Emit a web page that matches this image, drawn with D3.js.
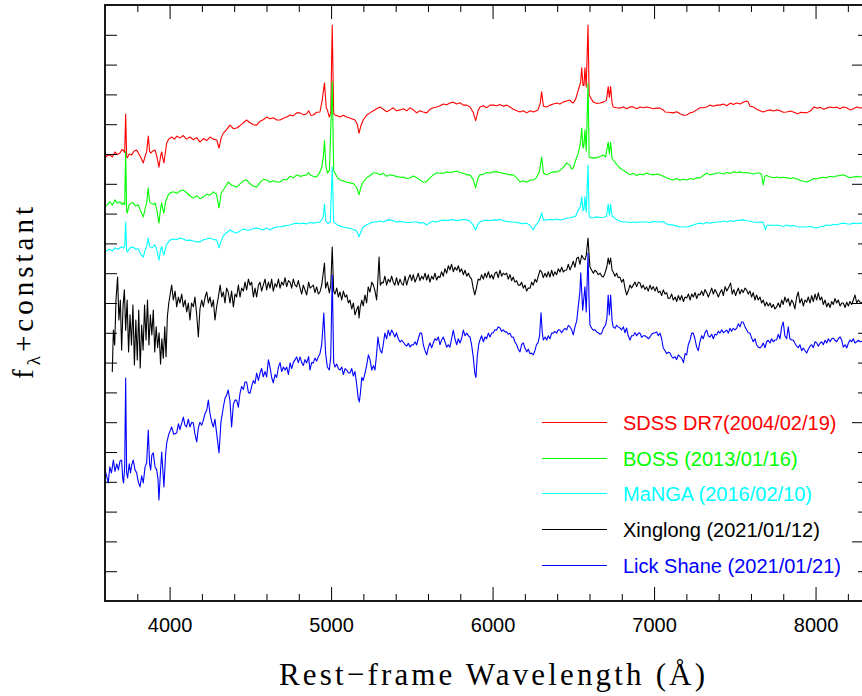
<!DOCTYPE html>
<meta charset="utf-8">
<style>
body { margin: 0; background: #fff; }
svg { display: block; }
.tick text { font-family: "Liberation Sans", Arial, sans-serif; font-size: 20px; fill: #000; }
.tick line { stroke: #000; stroke-width: 1; }
.spec { fill: none; stroke-width: 1.1; stroke-linejoin: round; }
.legend text { font-family: "Liberation Sans", Arial, sans-serif; font-size: 20px; }
.title { font-family: "Liberation Serif", "Times New Roman", serif; fill: #000; }
</style>
<svg width="862" height="696"></svg>
<script src="https://cdn.jsdelivr.net/npm/d3@7"></script>
<script>

// spectra: [rest-frame wavelength (A), f_lambda + constant]
var sdss = [[3600,14.87],[3615,14.95],[3631,14.97],[3645,14.90],[3662,15.07],[3675,14.98],[3693,15.03],[3705,15.15],[3713,15.13],[3722,15.05],
  [3728,16.34],[3734,14.92],[3738,14.87],[3750,15.00],[3765,14.97],[3780,15.10],[3796,15.13],[3810,15.00],[3825,14.85],[3837,14.70],
  [3850,14.95],[3858,15.07],[3868,15.60],[3876,15.10],[3883,15.03],[3895,15.10],[3910,15.13],[3922,14.90],[3934,14.56],[3945,14.95],
  [3951,15.07],[3958,14.85],[3965,14.70],[3975,15.10],[3982,15.37],[3995,15.50],[4013,15.57],[4030,15.50],[4045,15.60],[4064,15.54],
  [4085,15.62],[4105,15.50],[4126,15.57],[4147,15.48],[4168,15.55],[4188,15.40],[4209,15.52],[4230,15.45],[4250,15.57],[4271,15.50],
  [4292,15.47],[4306,15.20],[4320,15.55],[4333,15.70],[4350,15.80],[4374,15.97],[4395,15.85],[4415,15.87],[4436,15.95],[4457,16.05],
  [4477,16.14],[4498,16.05],[4520,15.98],[4539,15.97],[4560,16.10],[4580,16.15],[4601,16.24],[4622,16.18],[4642,16.22],[4663,16.14],
  [4684,16.14],[4705,16.20],[4725,16.24],[4746,16.31],[4766,16.28],[4787,16.38],[4808,16.38],[4830,16.32],[4849,16.35],[4861,16.45],
  [4875,16.30],[4890,16.31],[4911,16.40],[4931,16.41],[4945,16.81],[4959,17.39],[4970,16.55],[4977,16.48],[4989,16.24],[4998,16.40],
  [5007,19.33],[5016,16.35],[5024,16.31],[5040,16.28],[5055,16.24],[5075,16.30],[5097,16.24],[5120,16.20],[5148,16.14],[5162,16.00],
  [5173,15.70],[5185,15.95],[5199,16.14],[5220,16.30],[5241,16.38],[5262,16.45],[5282,16.52],[5303,16.58],[5323,16.50],[5344,16.42],
  [5365,16.48],[5385,16.55],[5405,16.45],[5427,16.48],[5447,16.52],[5468,16.45],[5489,16.55],[5509,16.48],[5530,16.38],[5550,16.45],
  [5570,16.41],[5592,16.38],[5612,16.50],[5633,16.55],[5654,16.58],[5674,16.62],[5695,16.68],[5716,16.65],[5736,16.71],[5757,16.74],
  [5778,16.68],[5798,16.72],[5819,16.64],[5840,16.64],[5860,16.58],[5880,16.40],[5895,16.12],[5910,16.45],[5922,16.58],[5943,16.62],
  [5963,16.55],[5984,16.64],[6004,16.64],[6025,16.62],[6046,16.66],[6066,16.60],[6087,16.64],[6108,16.58],[6128,16.50],[6150,16.45],
  [6170,16.41],[6190,16.45],[6211,16.38],[6232,16.45],[6252,16.41],[6270,16.45],[6281,16.48],[6295,16.70],[6304,17.09],[6315,16.60],
  [6335,16.58],[6355,16.64],[6376,16.68],[6397,16.71],[6417,16.68],[6438,16.75],[6459,16.78],[6479,16.81],[6490,16.74],[6500,16.71],
  [6515,16.85],[6531,17.15],[6545,17.40],[6552,17.89],[6560,17.30],[6566,17.30],[6572,17.89],[6580,17.25],[6591,19.33],[6598,16.98],
  [6612,16.84],[6624,16.74],[6645,16.70],[6665,16.71],[6686,16.74],[6705,16.80],[6716,17.26],[6723,16.90],[6731,17.26],[6740,16.70],
  [6747,16.58],[6768,16.55],[6789,16.54],[6810,16.58],[6830,16.52],[6851,16.58],[6871,16.58],[6892,16.52],[6913,16.58],[6933,16.55],
  [6954,16.58],[6975,16.55],[6995,16.52],[7016,16.54],[7037,16.54],[7057,16.48],[7068,16.41],[7090,16.40],[7119,16.38],[7140,16.42],
  [7161,16.35],[7182,16.30],[7202,16.31],[7223,16.38],[7243,16.41],[7264,16.48],[7284,16.55],[7305,16.55],[7326,16.58],[7346,16.64],
  [7367,16.60],[7388,16.64],[7408,16.64],[7430,16.68],[7450,16.62],[7474,16.71],[7490,16.66],[7512,16.71],[7532,16.68],[7552,16.74],
  [7573,16.78],[7583,16.74],[7594,16.60],[7614,16.58],[7635,16.50],[7656,16.45],[7676,16.41],[7697,16.45],[7718,16.48],[7740,16.44],
  [7759,16.48],[7780,16.45],[7800,16.40],[7821,16.41],[7845,16.44],[7862,16.41],[7890,16.35],[7910,16.40],[7945,16.38],[7970,16.45],
  [7990,16.58],[8007,16.54],[8030,16.56],[8050,16.50],[8069,16.54],[8090,16.58],[8110,16.55],[8130,16.58],[8152,16.52],[8172,16.58],
  [8193,16.55],[8213,16.48],[8234,16.52],[8255,16.58],[8275,16.54],[8300,16.56]];

var boss = [[3600,13.22],[3615,13.30],[3631,13.40],[3645,13.28],[3662,13.46],[3675,13.35],[3693,13.40],[3705,13.30],[3713,13.36],[3722,13.30],
  [3728,15.07],[3734,13.10],[3738,13.02],[3750,13.30],[3765,13.36],[3775,13.36],[3790,13.25],[3805,13.30],[3820,13.10],[3837,12.89],
  [3850,13.20],[3858,13.36],[3868,13.86],[3876,13.40],[3883,13.36],[3899,13.30],[3910,13.36],[3922,13.10],[3934,12.68],[3945,13.20],
  [3951,13.36],[3958,13.15],[3965,13.02],[3975,13.40],[3992,13.63],[4005,13.70],[4023,13.73],[4045,13.68],[4064,13.76],[4085,13.79],
  [4105,13.70],[4126,13.60],[4147,13.52],[4168,13.60],[4188,13.50],[4209,13.56],[4230,13.65],[4250,13.62],[4271,13.73],[4290,13.65],
  [4306,13.19],[4320,13.70],[4340,13.85],[4363,14.06],[4385,13.95],[4415,13.89],[4436,14.00],[4457,14.10],[4477,14.13],[4498,14.00],
  [4520,13.92],[4539,13.89],[4560,14.05],[4580,14.15],[4601,14.13],[4622,14.05],[4642,14.10],[4663,14.06],[4684,14.06],[4705,14.15],
  [4725,14.13],[4746,14.25],[4766,14.20],[4787,14.30],[4808,14.25],[4830,14.28],[4849,14.30],[4861,14.38],[4875,14.28],[4890,14.25],
  [4911,14.23],[4931,14.40],[4942,14.56],[4952,14.90],[4959,15.45],[4968,14.60],[4977,14.36],[4990,14.45],[5007,17.42],[5016,14.45],
  [5024,14.36],[5040,14.20],[5055,14.13],[5075,14.10],[5097,14.05],[5117,14.03],[5140,14.00],[5160,13.85],[5173,13.63],[5185,13.90],
  [5199,14.06],[5220,14.20],[5241,14.28],[5262,14.36],[5282,14.36],[5303,14.30],[5323,14.35],[5344,14.25],[5365,14.30],[5385,14.28],
  [5405,14.25],[5427,14.22],[5447,14.23],[5468,14.18],[5489,14.20],[5509,14.26],[5530,14.20],[5550,14.14],[5570,14.05],[5592,14.08],
  [5612,14.20],[5633,14.30],[5654,14.36],[5674,14.36],[5695,14.35],[5716,14.40],[5736,14.38],[5757,14.40],[5778,14.43],[5798,14.38],
  [5819,14.35],[5840,14.30],[5860,14.30],[5880,14.15],[5895,13.86],[5910,14.20],[5922,14.30],[5943,14.32],[5963,14.38],[5984,14.36],
  [6004,14.40],[6025,14.40],[6046,14.38],[6066,14.35],[6087,14.33],[6108,14.30],[6128,14.30],[6150,14.20],[6170,14.06],[6190,14.10],
  [6211,14.05],[6232,14.13],[6252,14.13],[6270,14.20],[6290,14.40],[6304,14.90],[6315,14.35],[6335,14.30],[6355,14.36],[6376,14.40],
  [6397,14.40],[6417,14.45],[6438,14.55],[6459,14.70],[6479,14.62],[6490,14.50],[6500,14.53],[6515,14.80],[6531,15.03],[6545,15.40],
  [6552,15.87],[6560,15.20],[6566,15.30],[6572,15.81],[6580,15.10],[6591,17.38],[6598,14.90],[6612,14.87],[6624,14.87],[6645,14.87],
  [6665,14.92],[6686,14.97],[6700,14.90],[6716,15.40],[6723,15.00],[6731,15.40],[6740,14.85],[6747,14.80],[6768,14.65],[6789,14.53],
  [6810,14.45],[6830,14.38],[6851,14.30],[6871,14.35],[6892,14.28],[6913,14.33],[6933,14.30],[6954,14.36],[6975,14.32],[6995,14.30],
  [7016,14.33],[7037,14.30],[7057,14.25],[7078,14.20],[7099,14.15],[7119,14.13],[7140,14.18],[7161,14.12],[7182,14.15],[7202,14.13],
  [7223,14.18],[7243,14.15],[7264,14.20],[7284,14.20],[7305,14.28],[7326,14.36],[7346,14.30],[7367,14.33],[7388,14.36],[7408,14.36],
  [7430,14.33],[7450,14.38],[7474,14.35],[7490,14.40],[7512,14.38],[7532,14.40],[7552,14.36],[7573,14.38],[7594,14.36],[7614,14.33],
  [7635,14.36],[7656,14.36],[7666,14.30],[7676,13.96],[7685,14.25],[7697,14.28],[7718,14.23],[7740,14.20],[7759,14.23],[7780,14.20],
  [7800,14.22],[7821,14.20],[7845,14.18],[7862,14.20],[7890,14.15],[7910,14.10],[7945,14.06],[7970,14.12],[7990,14.18],[8007,14.16],
  [8028,14.20],[8050,14.22],[8069,14.20],[8090,14.25],[8110,14.23],[8130,14.26],[8152,14.28],[8172,14.30],[8193,14.25],[8213,14.20],
  [8234,14.23],[8255,14.25],[8275,14.23],[8300,14.24]];

var manga = [[3600,11.71],[3615,11.78],[3631,11.80],[3645,11.74],[3662,11.85],[3680,11.80],[3700,11.88],[3713,11.85],[3722,11.90],[3728,12.72],
  [3734,11.75],[3738,11.71],[3755,11.85],[3775,11.88],[3790,11.80],[3805,11.82],[3820,11.65],[3837,11.54],[3850,11.80],[3858,11.90],
  [3868,12.18],[3876,11.90],[3890,11.85],[3910,11.95],[3922,11.75],[3934,11.44],[3945,11.80],[3951,11.90],[3958,11.72],[3965,11.61],
  [3980,11.95],[4002,12.11],[4023,12.15],[4044,12.12],[4064,12.18],[4085,12.15],[4105,12.10],[4126,12.11],[4147,12.08],[4168,12.05],
  [4188,12.05],[4209,12.12],[4230,12.15],[4250,12.18],[4271,12.14],[4292,12.11],[4306,11.85],[4320,12.10],[4333,12.25],[4350,12.35],
  [4374,12.45],[4395,12.38],[4415,12.35],[4436,12.42],[4457,12.48],[4477,12.45],[4498,12.45],[4520,12.50],[4539,12.52],[4560,12.48],
  [4580,12.45],[4601,12.52],[4622,12.45],[4642,12.52],[4663,12.55],[4684,12.55],[4705,12.58],[4725,12.60],[4746,12.62],[4766,12.66],
  [4787,12.68],[4808,12.66],[4830,12.68],[4849,12.65],[4870,12.70],[4890,12.68],[4911,12.70],[4931,12.72],[4942,12.79],[4952,12.90],
  [4959,13.32],[4968,12.75],[4980,12.68],[4995,12.70],[5007,14.56],[5016,12.72],[5024,12.68],[5040,12.62],[5055,12.58],[5075,12.55],
  [5097,12.52],[5120,12.50],[5148,12.45],[5160,12.40],[5173,12.22],[5185,12.40],[5199,12.55],[5220,12.62],[5241,12.68],[5262,12.72],
  [5282,12.72],[5303,12.75],[5323,12.72],[5344,12.78],[5365,12.79],[5385,12.76],[5405,12.72],[5427,12.74],[5447,12.72],[5468,12.70],
  [5489,12.70],[5509,12.72],[5530,12.72],[5550,12.68],[5570,12.70],[5592,12.62],[5612,12.70],[5633,12.74],[5654,12.72],[5674,12.76],
  [5695,12.78],[5716,12.76],[5736,12.79],[5757,12.79],[5778,12.76],[5798,12.78],[5819,12.80],[5840,12.79],[5860,12.74],[5880,12.62],
  [5895,12.45],[5910,12.65],[5922,12.72],[5943,12.76],[5963,12.78],[5984,12.76],[6004,12.79],[6025,12.78],[6046,12.80],[6066,12.76],
  [6087,12.74],[6108,12.72],[6128,12.72],[6150,12.70],[6170,12.68],[6190,12.66],[6211,12.68],[6232,12.60],[6252,12.45],[6265,12.60],
  [6281,12.70],[6295,12.85],[6304,13.02],[6315,12.78],[6335,12.79],[6355,12.80],[6376,12.79],[6397,12.82],[6417,12.79],[6438,12.80],
  [6459,12.85],[6479,12.86],[6500,12.89],[6515,12.92],[6531,13.12],[6545,13.25],[6552,13.56],[6560,13.10],[6566,13.15],[6572,13.56],
  [6580,13.05],[6591,14.63],[6598,12.90],[6612,12.85],[6624,12.86],[6645,12.89],[6665,12.87],[6686,12.88],[6705,12.90],[6716,13.32],
  [6723,12.95],[6731,13.32],[6740,12.90],[6747,12.89],[6768,12.80],[6789,12.74],[6810,12.72],[6830,12.72],[6851,12.70],[6871,12.72],
  [6892,12.70],[6913,12.72],[6933,12.72],[6954,12.72],[6975,12.70],[6995,12.74],[7016,12.72],[7037,12.72],[7057,12.74],[7078,12.65],
  [7099,12.62],[7119,12.62],[7140,12.58],[7161,12.56],[7182,12.55],[7202,12.55],[7223,12.58],[7243,12.62],[7264,12.66],[7284,12.68],
  [7305,12.65],[7326,12.70],[7346,12.68],[7367,12.70],[7388,12.72],[7408,12.72],[7430,12.75],[7450,12.72],[7474,12.76],[7490,12.74],
  [7512,12.77],[7532,12.78],[7552,12.79],[7573,12.76],[7594,12.75],[7614,12.72],[7635,12.70],[7656,12.72],[7676,12.70],[7690,12.45],
  [7697,12.60],[7718,12.62],[7740,12.60],[7759,12.62],[7780,12.60],[7800,12.57],[7821,12.62],[7845,12.58],[7862,12.60],[7890,12.56],
  [7910,12.55],[7945,12.55],[7970,12.57],[7990,12.53],[8007,12.52],[8030,12.56],[8050,12.58],[8069,12.62],[8090,12.60],[8110,12.64],
  [8130,12.62],[8152,12.66],[8172,12.68],[8193,12.66],[8213,12.64],[8234,12.68],[8255,12.66],[8275,12.68],[8300,12.67]];

var xinglong = [[3645,7.68],[3652,9.09],[3660,8.59],[3668,10.10],[3678,10.87],[3686,9.43],[3695,10.10],[3703,8.42],[3712,9.93],[3720,10.44],
  [3728,9.09],[3737,10.10],[3746,8.36],[3755,9.60],[3764,8.59],[3773,9.93],[3782,7.92],[3791,9.43],[3800,8.09],[3809,9.76],
  [3818,7.82],[3827,9.26],[3836,8.42],[3845,9.93],[3854,8.76],[3863,10.10],[3872,8.59],[3881,9.60],[3890,8.93],[3899,9.76],
  [3908,8.36],[3917,9.20],[3926,8.50],[3935,9.00],[3944,7.95],[3952,8.80],[3961,8.15],[3970,9.20],[3978,8.20],[3986,9.53],
  [3995,10.00],[4005,10.34],[4013,10.60],[4023,10.10],[4034,10.40],[4044,9.87],[4054,10.20],[4064,10.00],[4075,10.30],[4085,9.87],
  [4096,10.10],[4106,9.70],[4116,10.00],[4126,9.43],[4136,10.00],[4147,9.87],[4157,10.20],[4168,9.60],[4178,8.86],[4188,9.80],
  [4199,10.10],[4209,9.87],[4220,10.20],[4230,10.37],[4240,10.00],[4250,10.20],[4261,9.87],[4271,10.10],[4281,9.43],[4292,9.90],
  [4302,10.20],[4313,10.60],[4323,10.20],[4333,10.37],[4343,10.00],[4353,10.50],[4363,10.37],[4374,10.00],[4384,10.40],[4395,9.87],
  [4405,10.30],[4415,10.20],[4426,10.60],[4436,10.20],[4446,10.50],[4457,10.40],[4467,10.70],[4477,10.44],[4488,10.80],[4498,10.60],
  [4508,10.70],[4519,10.20],[4529,10.50],[4539,10.20],[4550,10.60],[4560,10.70],[4570,10.40],[4580,10.60],[4591,10.80],[4601,10.44],
  [4612,10.70],[4622,10.50],[4632,10.80],[4642,10.40],[4653,10.65],[4663,10.54],[4674,10.80],[4684,10.50],[4694,10.70],[4705,10.60],
  [4715,10.85],[4725,10.55],[4736,10.75],[4746,10.70],[4756,10.50],[4766,10.80],[4777,10.60],[4787,10.54],[4797,10.75],[4808,10.50],
  [4818,10.30],[4828,10.60],[4849,10.27],[4861,10.70],[4870,10.50],[4890,10.60],[4900,10.35],[4911,10.54],[4921,10.30],[4931,10.37],
  [4942,10.60],[4959,11.34],[4966,10.50],[4977,10.70],[4989,10.34],[4998,10.60],[5007,11.88],[5016,10.40],[5024,10.30],[5035,10.50],
  [5045,10.20],[5055,10.37],[5066,10.10],[5076,10.40],[5087,10.20],[5097,10.27],[5107,10.00],[5117,10.10],[5128,9.80],[5138,10.00],
  [5148,9.60],[5160,9.80],[5168,9.90],[5173,9.50],[5180,9.85],[5190,10.10],[5199,9.90],[5210,10.27],[5220,10.00],[5230,10.54],
  [5241,10.37],[5252,10.70],[5262,10.60],[5272,10.40],[5282,10.10],[5290,10.80],[5297,11.54],[5305,10.60],[5315,10.70],[5323,10.67],
  [5333,10.90],[5344,10.60],[5354,10.80],[5365,10.70],[5375,10.90],[5385,10.70],[5395,10.60],[5405,10.85],[5416,10.60],[5427,10.80],
  [5437,10.65],[5447,10.60],[5458,10.90],[5468,10.60],[5478,10.80],[5489,10.95],[5499,10.75],[5509,10.95],[5520,10.70],[5530,10.84],
  [5540,11.00],[5550,10.75],[5561,10.90],[5571,10.80],[5582,11.00],[5592,10.77],[5602,10.95],[5612,10.70],[5623,10.90],[5633,10.80],
  [5643,11.00],[5654,10.77],[5664,10.90],[5674,10.85],[5684,11.05],[5695,10.90],[5705,11.15],[5716,11.00],[5726,11.25],[5736,11.11],
  [5746,11.30],[5757,11.05],[5767,11.20],[5778,11.10],[5788,11.25],[5798,11.04],[5808,11.15],[5819,10.95],[5829,11.10],[5840,10.90],
  [5850,11.00],[5860,10.87],[5870,10.80],[5880,10.50],[5890,10.27],[5900,10.50],[5911,10.80],[5922,10.77],[5932,10.95],[5943,10.80],
  [5953,11.00],[5963,10.85],[5974,11.05],[5984,10.84],[5994,10.95],[6004,10.80],[6015,11.00],[6025,11.04],[6035,10.85],[6046,11.10],
  [6056,10.90],[6066,11.00],[6077,10.95],[6087,11.00],[6097,10.80],[6108,10.95],[6118,10.75],[6128,10.87],[6138,10.70],[6149,10.75],
  [6159,10.60],[6170,10.60],[6180,10.70],[6190,10.50],[6201,10.60],[6211,10.40],[6221,10.50],[6232,10.50],[6242,10.70],[6252,10.60],
  [6263,10.80],[6273,10.70],[6283,10.90],[6294,11.10],[6304,11.04],[6314,10.85],[6325,11.00],[6335,10.87],[6345,11.05],[6355,10.87],
  [6366,11.10],[6376,10.90],[6386,11.05],[6397,10.95],[6407,11.15],[6417,11.04],[6428,11.20],[6438,11.04],[6448,11.10],[6459,11.11],
  [6469,11.30],[6479,11.11],[6490,11.25],[6500,11.40],[6510,11.20],[6521,11.50],[6531,11.54],[6541,11.30],[6552,11.60],[6562,11.50],
  [6572,11.45],[6580,11.60],[6591,12.18],[6598,11.60],[6603,11.21],[6614,11.10],[6624,11.00],[6634,11.10],[6645,11.04],[6655,10.95],
  [6666,11.00],[6676,10.90],[6686,10.87],[6696,11.00],[6707,11.20],[6716,11.51],[6723,11.30],[6731,11.51],[6740,11.10],[6747,11.04],
  [6758,10.90],[6768,11.00],[6778,10.85],[6789,10.87],[6799,10.70],[6810,10.80],[6820,10.50],[6830,10.27],[6840,10.40],[6851,10.60],
  [6861,10.50],[6871,10.60],[6882,10.70],[6892,10.55],[6903,10.70],[6913,10.67],[6923,10.50],[6933,10.60],[6944,10.45],[6954,10.54],
  [6964,10.40],[6975,10.60],[6985,10.45],[6995,10.55],[7006,10.40],[7016,10.54],[7026,10.35],[7037,10.40],[7047,10.25],[7057,10.44],
  [7068,10.30],[7078,10.35],[7088,10.15],[7099,10.17],[7109,10.30],[7119,10.10],[7130,10.20],[7140,10.05],[7150,10.25],[7161,10.10],
  [7171,10.25],[7182,10.05],[7192,10.20],[7202,10.17],[7213,10.30],[7223,10.10],[7233,10.30],[7243,10.20],[7254,10.35],[7264,10.15],
  [7274,10.30],[7284,10.27],[7295,10.40],[7305,10.25],[7315,10.45],[7326,10.34],[7336,10.20],[7346,10.34],[7357,10.50],[7367,10.30],
  [7377,10.45],[7388,10.34],[7398,10.20],[7408,10.34],[7419,10.45],[7429,10.25],[7440,10.55],[7450,10.40],[7460,10.50],[7474,10.67],
  [7484,10.30],[7494,10.45],[7505,10.25],[7512,10.37],[7522,10.50],[7532,10.30],[7542,10.45],[7552,10.35],[7563,10.50],[7573,10.44],
  [7583,10.30],[7594,10.40],[7604,10.20],[7614,10.35],[7625,10.10],[7635,10.27],[7645,10.10],[7656,10.20],[7666,10.00],[7676,10.10],
  [7687,9.90],[7697,10.03],[7707,9.90],[7718,10.00],[7728,9.85],[7738,9.95],[7749,9.80],[7759,9.87],[7769,10.00],[7780,9.85],
  [7790,10.10],[7800,9.95],[7810,10.20],[7821,10.03],[7831,10.15],[7841,9.90],[7852,10.10],[7862,10.00],[7872,9.80],[7883,10.20],
  [7893,10.37],[7903,10.00],[7914,10.15],[7924,9.90],[7935,10.10],[7945,10.03],[7955,10.20],[7966,10.00],[7976,10.25],[7986,10.05],
  [7997,10.30],[8007,10.10],[8017,10.34],[8028,10.10],[8038,10.20],[8048,9.95],[8059,10.10],[8069,9.87],[8079,10.00],[8090,9.85],
  [8100,10.05],[8110,9.95],[8120,10.15],[8131,10.00],[8141,10.10],[8152,9.90],[8162,10.00],[8172,10.00],[8183,9.85],[8193,10.03],
  [8203,9.90],[8213,10.05],[8224,9.95],[8234,10.10],[8244,10.27],[8255,10.00],[8265,10.10],[8275,10.03],[8290,10.00],[8300,10.02]];

var lick = [[3600,4.40],[3610,4.20],[3620,3.96],[3630,4.50],[3640,4.30],[3652,4.73],[3662,4.35],[3673,4.60],[3683,4.40],[3693,4.70],
  [3703,4.73],[3710,4.10],[3715,3.96],[3722,4.50],[3728,7.48],[3734,4.30],[3740,4.13],[3750,4.60],[3758,4.30],[3765,4.56],
  [3775,4.73],[3786,4.40],[3796,4.30],[3806,4.00],[3817,3.83],[3827,4.20],[3837,3.96],[3848,4.50],[3858,4.63],[3868,5.74],
  [3876,4.60],[3883,4.40],[3890,4.90],[3899,4.97],[3910,4.50],[3920,4.40],[3928,4.10],[3934,3.39],[3942,4.20],[3951,5.00],
  [3958,4.40],[3965,3.83],[3975,4.90],[3982,5.30],[3995,5.60],[4013,5.84],[4025,5.60],[4044,5.64],[4055,5.95],[4064,5.75],
  [4085,6.17],[4095,5.90],[4105,5.84],[4116,6.10],[4126,5.84],[4137,6.00],[4147,5.97],[4157,5.60],[4168,5.34],[4178,5.80],
  [4188,6.00],[4199,5.90],[4209,6.07],[4220,6.30],[4230,6.40],[4240,6.74],[4250,6.30],[4261,6.00],[4271,5.84],[4281,6.10],
  [4292,5.60],[4306,4.97],[4318,6.00],[4333,6.51],[4343,6.80],[4353,6.90],[4363,7.08],[4374,6.70],[4384,5.84],[4395,6.60],
  [4405,6.74],[4415,6.74],[4426,6.50],[4436,6.97],[4446,7.20],[4457,7.10],[4467,7.35],[4477,7.35],[4488,7.00],[4498,6.97],
  [4508,7.20],[4519,7.40],[4529,7.30],[4539,7.65],[4550,7.40],[4560,7.65],[4570,7.80],[4580,7.52],[4591,7.70],[4601,7.52],
  [4612,8.09],[4622,7.85],[4632,7.50],[4642,7.32],[4653,7.60],[4663,7.50],[4674,7.85],[4684,8.00],[4694,7.70],[4705,7.85],
  [4715,7.75],[4725,7.85],[4736,7.60],[4746,7.99],[4756,7.80],[4766,8.00],[4777,8.10],[4787,8.19],[4797,8.00],[4808,8.19],
  [4818,8.00],[4828,7.90],[4838,8.10],[4849,7.99],[4861,8.20],[4869,7.75],[4880,8.00],[4890,7.99],[4900,8.15],[4911,8.05],
  [4921,8.20],[4931,8.30],[4942,8.60],[4955,9.66],[4966,8.32],[4977,7.85],[4989,7.75],[4998,8.20],[5007,10.94],[5016,8.00],
  [5024,7.85],[5035,7.95],[5045,7.80],[5055,7.75],[5066,7.85],[5076,7.60],[5087,7.80],[5097,7.75],[5107,7.65],[5117,7.65],
  [5128,7.80],[5138,7.55],[5148,7.70],[5160,7.20],[5168,6.80],[5175,6.68],[5182,7.00],[5190,7.50],[5199,7.40],[5210,7.65],
  [5220,7.90],[5231,8.26],[5241,8.10],[5252,7.75],[5262,7.90],[5272,7.75],[5282,8.30],[5290,8.86],[5297,8.60],[5305,8.40],
  [5314,8.32],[5323,8.60],[5333,8.99],[5344,8.80],[5354,9.09],[5364,8.90],[5375,9.09],[5385,8.99],[5395,8.86],[5405,9.00],
  [5416,8.80],[5427,8.69],[5437,8.75],[5447,8.69],[5458,8.60],[5468,8.55],[5478,8.65],[5489,8.52],[5499,8.60],[5509,8.59],
  [5520,8.70],[5530,8.59],[5540,8.80],[5550,8.99],[5561,8.99],[5571,8.60],[5582,8.40],[5592,8.26],[5602,8.50],[5612,8.66],
  [5623,8.50],[5633,8.66],[5643,8.80],[5654,8.75],[5664,8.86],[5674,8.60],[5684,8.75],[5695,8.86],[5705,8.70],[5716,8.52],
  [5726,8.60],[5736,8.52],[5746,8.80],[5757,9.09],[5767,8.80],[5778,8.60],[5788,8.80],[5798,8.66],[5808,8.80],[5819,9.09],
  [5829,8.90],[5840,8.99],[5850,8.90],[5860,8.86],[5870,8.60],[5880,8.20],[5890,7.65],[5897,7.50],[5905,8.20],[5914,8.60],
  [5922,8.76],[5932,8.90],[5943,8.70],[5953,8.86],[5963,8.80],[5974,8.99],[5984,8.86],[5994,8.99],[6004,9.00],[6015,9.10],
  [6025,9.09],[6035,9.20],[6046,9.16],[6056,9.05],[6066,9.10],[6077,9.03],[6087,9.03],[6097,8.95],[6108,8.99],[6118,8.86],
  [6128,8.86],[6138,8.70],[6149,8.60],[6159,8.45],[6170,8.36],[6180,8.60],[6190,8.66],[6200,8.50],[6211,8.36],[6221,8.45],
  [6232,8.30],[6242,8.32],[6252,8.26],[6262,8.40],[6272,8.60],[6281,8.66],[6291,8.90],[6300,9.67],[6308,9.00],[6314,8.76],
  [6325,8.86],[6335,8.76],[6345,8.90],[6355,8.80],[6366,8.99],[6376,8.99],[6386,9.05],[6397,8.99],[6407,9.10],[6417,9.09],
  [6428,9.00],[6438,9.09],[6448,9.15],[6459,9.10],[6469,9.25],[6479,9.20],[6490,9.10],[6500,8.93],[6510,9.20],[6521,9.40],
  [6531,9.90],[6541,10.40],[6546,11.01],[6558,9.76],[6566,10.20],[6572,10.54],[6580,9.70],[6591,11.68],[6598,10.00],[6603,9.26],
  [6614,9.15],[6624,9.09],[6634,9.10],[6645,9.03],[6655,9.00],[6666,8.95],[6676,8.99],[6686,9.15],[6700,9.26],[6708,9.50],
  [6716,10.27],[6723,9.60],[6731,10.27],[6740,9.40],[6747,9.20],[6758,9.15],[6768,9.25],[6778,9.20],[6789,9.16],[6799,9.10],
  [6810,9.20],[6820,9.00],[6830,9.16],[6840,8.90],[6851,8.76],[6861,8.90],[6871,8.90],[6882,9.00],[6892,8.90],[6903,8.99],
  [6913,8.99],[6923,8.85],[6933,8.90],[6944,8.90],[6954,8.86],[6965,8.80],[6975,8.86],[6985,8.95],[6995,8.99],[7006,9.00],
  [7016,9.03],[7026,8.90],[7037,8.99],[7047,8.80],[7057,8.49],[7068,8.40],[7078,8.30],[7088,8.35],[7099,8.32],[7109,8.20],
  [7119,8.15],[7130,8.20],[7140,8.10],[7150,8.26],[7161,8.20],[7171,8.15],[7182,8.00],[7192,8.30],[7202,8.26],[7212,8.60],
  [7223,8.76],[7233,8.99],[7243,8.99],[7253,8.80],[7264,8.52],[7274,8.40],[7284,8.70],[7295,8.90],[7305,8.80],[7315,9.00],
  [7326,9.09],[7336,8.90],[7346,8.86],[7357,8.95],[7367,8.80],[7377,8.95],[7388,8.93],[7398,9.05],[7408,8.99],[7419,9.10],
  [7429,9.00],[7440,9.05],[7450,9.09],[7460,8.99],[7470,9.15],[7480,9.05],[7490,9.15],[7501,9.10],[7512,9.16],[7522,9.30],
  [7532,9.20],[7542,9.36],[7552,9.36],[7563,9.20],[7573,9.10],[7583,9.00],[7594,8.99],[7604,8.83],[7614,8.70],[7625,8.80],
  [7635,8.60],[7645,8.52],[7656,8.49],[7666,8.55],[7676,8.66],[7687,8.50],[7697,8.70],[7707,8.75],[7718,8.66],[7728,8.80],
  [7738,8.70],[7749,8.76],[7759,8.76],[7769,8.95],[7780,8.80],[7790,9.20],[7800,9.36],[7810,8.90],[7821,8.80],[7831,9.20],
  [7841,8.80],[7852,8.76],[7862,8.76],[7872,8.65],[7883,8.55],[7893,8.50],[7903,8.60],[7914,8.40],[7924,8.49],[7935,8.40],
  [7945,8.32],[7955,8.45],[7966,8.55],[7976,8.60],[7986,8.50],[7997,8.70],[8007,8.66],[8017,8.55],[8028,8.65],[8038,8.70],
  [8048,8.60],[8059,8.75],[8069,8.66],[8079,8.80],[8090,8.70],[8100,8.80],[8110,8.82],[8120,8.75],[8131,8.70],[8141,8.80],
  [8152,8.86],[8162,8.75],[8172,8.52],[8183,8.60],[8193,8.49],[8203,8.65],[8213,8.76],[8224,8.70],[8234,8.80],[8244,8.66],
  [8255,8.70],[8265,8.75],[8275,8.70],[8290,8.72],[8300,8.70]];

var names = ["SDSS DR7(2004/02/19)", "BOSS (2013/01/16)", "MaNGA (2016/02/10)", "Xinglong (2021/01/12)", "Lick Shane (2021/01/21)"];
var colors = ["#ff0000", "#00ff00", "#00ffff", "#000000", "#0000ff"];
var spectra = [sdss, boss, manga, xinglong, lick];

var xMajor = [4000, 5000, 6000, 7000, 8000];
var xMinor = [3800, 4200, 4400, 4600, 4800, 5200, 5400, 5600, 5800, 6200, 6400, 6600, 6800, 7200, 7400, 7600, 7800, 8200];
var yTicks = [1, 2, 3, 4, 5, 6, 7, 8, 9, 10, 11, 12, 13, 14, 15, 16, 17, 18, 19];
var yRightMajor = [2, 6, 10, 14, 18];

var svg = d3.select("svg");

var plotLeft = 105, plotRight = 864, plotTop = 5, plotBottom = 601;

var x = d3.scaleLinear().domain([3600, 8300]).range([plotLeft, plotRight]);
var y = d3.scaleLinear().domain([0, 20]).range([plotBottom, plotTop]);

svg.append("clipPath").attr("id", "plot")
  .append("rect").attr("x", plotLeft).attr("y", plotTop)
    .attr("width", plotRight - plotLeft).attr("height", plotBottom - plotTop);

var line = d3.line()
    .x(function(d) { return x(d[0]); })
    .y(function(d) { return y(d[1]); });

svg.append("g")
    .attr("clip-path", "url(#plot)")
  .selectAll("path")
  .data(spectra)
  .enter().append("path")
    .attr("class", "spec")
    .attr("stroke", function(d, i) { return colors[i]; })
    .attr("d", line);

function noDomain(g) { g.select(".domain").remove(); }

// bottom + top ticks
svg.append("g").attr("transform", "translate(0," + plotBottom + ")")
    .call(d3.axisBottom(x).tickValues(xMajor).tickSize(-14).tickPadding(17).tickFormat(d3.format("d")))
    .call(noDomain);
svg.append("g").attr("transform", "translate(0," + plotBottom + ")")
    .call(d3.axisBottom(x).tickValues(xMinor).tickSize(-7).tickFormat(""))
    .call(noDomain);
svg.append("g").attr("transform", "translate(0," + plotTop + ")")
    .call(d3.axisTop(x).tickValues(xMajor).tickSize(-14).tickFormat(""))
    .call(noDomain);
svg.append("g").attr("transform", "translate(0," + plotTop + ")")
    .call(d3.axisTop(x).tickValues(xMinor).tickSize(-7).tickFormat(""))
    .call(noDomain);

// left + right ticks
svg.append("g").attr("transform", "translate(" + plotLeft + ",0)")
    .call(d3.axisLeft(y).tickValues(yTicks).tickSize(-12).tickFormat(""))
    .call(noDomain);
svg.append("g").attr("transform", "translate(" + plotRight + ",0)")
    .call(d3.axisRight(y).tickValues(yRightMajor).tickSize(-12).tickFormat(""))
    .call(noDomain);
svg.append("g").attr("transform", "translate(" + plotRight + ",0)")
    .call(d3.axisRight(y).tickValues(yTicks.filter(function(t) { return yRightMajor.indexOf(t) < 0; })).tickSize(-6).tickFormat(""))
    .call(noDomain);

svg.append("rect")
    .attr("x", plotLeft).attr("y", plotTop)
    .attr("width", plotRight - plotLeft).attr("height", plotBottom - plotTop)
    .attr("fill", "none").attr("stroke", "#000").attr("stroke-width", 1.8);

// legend
var legend = svg.append("g").attr("class", "legend")
  .selectAll("g")
  .data(names)
  .enter().append("g")
    .attr("transform", function(d, i) { return "translate(542," + (Math.round(421.7 + i * 35.8) + 0.5) + ")"; });

legend.append("line")
    .attr("x1", 0).attr("x2", 65)
    .attr("stroke", function(d, i) { return colors[i]; })
    .attr("stroke-width", 1);

legend.append("text")
    .attr("x", 81).attr("y", 7)
    .attr("fill", function(d, i) { return colors[i]; })
    .text(function(d) { return d; });

// axis titles
svg.append("text")
    .attr("class", "title")
    .attr("text-anchor", "middle")
    .attr("font-size", "31px")
    .attr("textLength", 426)
    .attr("lengthAdjust", "spacing")
    .attr("transform", "translate(492,685) scale(1,1.05)")
    .text("Rest\u2212frame Wavelength (\u00c5)");

var yt = svg.append("text")
    .attr("class", "title")
    .attr("text-anchor", "middle")
    .attr("font-size", "29px")
    .attr("letter-spacing", "4px")
    .attr("transform", "translate(33,291) rotate(-90)");
yt.append("tspan").text("f");
yt.append("tspan").attr("font-size", "19px").attr("dy", 7).text("\u03bb");
yt.append("tspan").attr("dy", -7).text("+constant");

</script>
